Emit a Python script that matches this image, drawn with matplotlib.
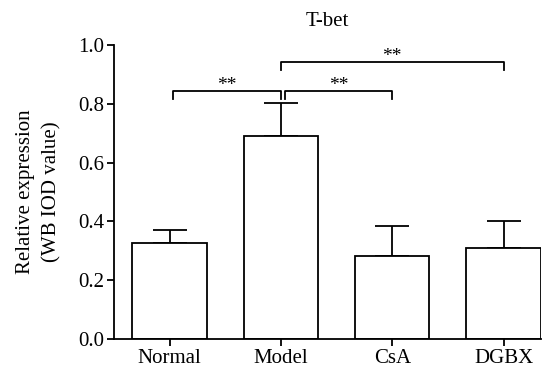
import matplotlib
matplotlib.use("Agg")
import matplotlib.pyplot as plt

# Data
groups = ["Normal", "Model", "CsA", "DGBX"]
means = [0.326, 0.692, 0.284, 0.311]
errors = [0.046, 0.113, 0.099, 0.089]
# significance brackets: (left x, right x, height, label)
brackets = [(0.03, 1.0, 0.846, "**"), (1.04, 2.0, 0.846, "**"), (1.0, 3.0, 0.944, "**")]

plt.rcParams['font.family'] = ['Liberation Serif', 'DejaVu Serif']
plt.rcParams['font.size'] = 15

fig = plt.figure(figsize=(5.5, 3.72), dpi=100)
ax = fig.add_axes([0.207, 0.089, 0.776, 0.789])

x = list(range(len(groups)))
ax.bar(x, means, width=0.667, color="white", edgecolor="black", linewidth=1.3, zorder=2)
ax.errorbar(x, means, yerr=[[0] * len(errors), errors], fmt="none",
            ecolor="black", elinewidth=1.3, capsize=12.5, capthick=1.3, zorder=1)

# Significance brackets
for xl, xr, h, label in brackets:
    ax.plot([xl, xl, xr, xr], [h - 0.028, h, h, h - 0.028], color="black", lw=1.3, clip_on=False)
    ax.text((xl + xr) / 2, h - 0.01, label, ha="center", va="bottom", fontsize=14)

ax.set_xlim(-0.5, 3.333)
ax.set_ylim(0, 1.0)
ax.set_yticks([0.0, 0.2, 0.4, 0.6, 0.8, 1.0])
ax.set_yticklabels([f"{v:.1f}" for v in [0.0, 0.2, 0.4, 0.6, 0.8, 1.0]])
ax.set_xticks(x)
ax.set_xticklabels(groups)
ax.tick_params(direction="out", length=5, width=1.3, pad=2)
ax.spines["top"].set_visible(False)
ax.spines["right"].set_visible(False)
ax.spines["left"].set_linewidth(1.3)
ax.spines["bottom"].set_linewidth(1.3)

ax.set_ylabel("Relative expression\n(WB IOD value)", linespacing=1.5, labelpad=12)
ax.set_title("T-bet", fontsize=15, pad=14)

plt.savefig("out.png", dpi=100)
